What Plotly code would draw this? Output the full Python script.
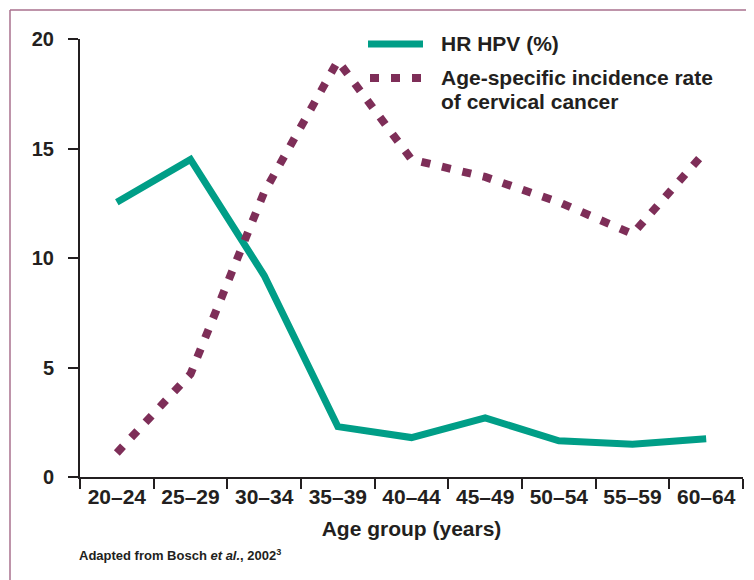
import plotly.graph_objects as go

# ---- data ----
age_groups = ["20–24", "25–29", "30–34", "35–39", "40–44", "45–49", "50–54", "55–59", "60–64"]
hr_hpv = [12.55, 14.5, 9.2, 2.3, 1.8, 2.7, 1.65, 1.5, 1.75]
incidence = [1.1, 4.7, 13.0, 19.0, 14.5, 13.7, 12.55, 11.1, 14.9]
y_ticks = [0, 5, 10, 15, 20]

series_names = ["HR HPV (%)", "Age-specific incidence rate", "of cervical cancer"]
x_title = "Age group (years)"
caption = "Adapted from Bosch <i>et al.</i>, 2002<sup>3</sup>"

# ---- styles ----
TEAL = "#009E87"
MAROON = "#7E2E58"
INK = "#231F20"
BORDER = "#A8708E"
FONT = "Liberation Sans, Arial, sans-serif"
DASH = "9px,12px"

OFF = 8                      # page body margin in the browser
W, H = 754 - OFF, 580 - OFF  # figure size so it fits the window
# plot area in screen pixels
SL, SR, ST, SB = 80, 743, 39, 477
L, R, T, B = SL - OFF, SR - OFF, ST - OFF, SB - OFF


def px(x):
    """screen x pixel -> paper coordinate"""
    return (x - SL) / (SR - SL)


def py(y):
    """screen y pixel -> paper coordinate"""
    return (SB - y) / (SB - ST)


fig = go.Figure()
fig.add_trace(go.Scatter(x=age_groups, y=hr_hpv, mode="lines",
                         line=dict(color=TEAL, width=7), name=series_names[0],
                         showlegend=False, cliponaxis=False))
fig.add_trace(go.Scatter(x=age_groups, y=incidence, mode="lines",
                         line=dict(color=MAROON, width=8, dash=DASH),
                         name=series_names[1] + " " + series_names[2],
                         showlegend=False, cliponaxis=False))

fig.update_layout(
    width=W, height=H,
    margin=dict(l=L, r=W - R, t=T, b=H - B, pad=0),
    paper_bgcolor="white", plot_bgcolor="white",
    font=dict(family=FONT, color=INK, size=21, weight="bold"),
    xaxis=dict(type="category", range=[-0.5, 8.5], tickson="boundaries",
               ticks="outside", ticklen=10, tickwidth=2, tickcolor=INK,
               showline=True, linewidth=2, linecolor=INK, showgrid=False,
               zeroline=False, tickfont=dict(size=21, weight="bold", color=INK),
               title=dict(text=x_title, font=dict(size=21, weight="bold", color=INK),
                          standoff=14)),
    yaxis=dict(range=[0, 20], tickvals=y_ticks, ticks="outside", ticklen=10,
               tickwidth=2, tickcolor=INK, showline=True, linewidth=2,
               linecolor=INK, showgrid=False, zeroline=False,
               tickfont=dict(size=20, weight="bold", color=INK),
               ticklabelstandoff=10),
)

# border (top and left edges of the frame)
fig.add_shape(type="line", xref="paper", yref="paper",
              x0=px(10), y0=py(10), x1=px(760), y1=py(10),
              line=dict(color=BORDER, width=1.5))
fig.add_shape(type="line", xref="paper", yref="paper",
              x0=px(10), y0=py(10), x1=px(10), y1=py(585),
              line=dict(color=BORDER, width=1.5))

# legend
fig.add_shape(type="line", xref="paper", yref="paper",
              x0=px(368), y0=py(44), x1=px(423), y1=py(44),
              line=dict(color=TEAL, width=7))
fig.add_shape(type="line", xref="paper", yref="paper",
              x0=px(370), y0=py(78), x1=px(423), y1=py(78),
              line=dict(color=MAROON, width=8, dash=DASH))
legend_rows = [(series_names[0], 44), (series_names[1], 77), (series_names[2], 101)]
for txt, yy in legend_rows:
    fig.add_annotation(text=txt, xref="paper", yref="paper", x=px(439), y=py(yy),
                       xanchor="left", yanchor="middle", showarrow=False,
                       font=dict(size=21, weight="bold", color=INK))

# caption
fig.add_annotation(text=caption, xref="paper", yref="paper", x=px(77), y=py(555),
                   xanchor="left", yanchor="middle", showarrow=False,
                   font=dict(size=13, weight="bold", color=INK))

fig.write_html("out.html")
